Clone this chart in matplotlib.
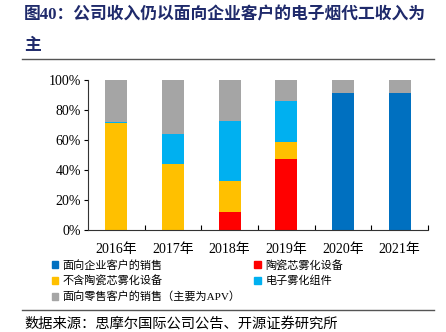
import numpy as np
import matplotlib
matplotlib.use('Agg')
from matplotlib import pyplot as plt
from matplotlib.patches import Patch

plt.rcParams['font.family'] = ['Liberation Serif', 'Noto Sans CJK SC']

# data (share of revenue, %)
years = ['2016年', '2017年', '2018年', '2019年', '2020年', '2021年']
enterprise = [0, 0, 0, 0, 91.6, 91.6]
ceramic = [0, 0, 11.8, 47.1, 0, 0]
non_ceramic = [71.3, 44.0, 20.9, 11.8, 0, 0]
component = [0.9, 19.8, 39.7, 27.3, 0, 0]
retail = [27.8, 36.2, 27.6, 13.8, 8.4, 8.4]

names = ['面向企业客户的销售', '陶瓷芯雾化设备', '不含陶瓷芯雾化设备',
         '电子雾化组件', '面向零售客户的销售（主要为APV）']
colors = ['#0070C0', '#FF0000', '#FFC000', '#00B0F0', '#A5A5A5']

fig = plt.figure(figsize=(4.46, 3.32), dpi=100)
W, H = 446, 332
ax = fig.add_axes([88/W, 1-230/H, 340/W, 150/H])

x = np.arange(len(years))
bottom = np.zeros(len(years))
series = [enterprise, ceramic, non_ceramic, component, retail]
for vals, c in zip(series, colors):
    ax.bar(x, vals, width=0.39, bottom=bottom, color=c)
    bottom += np.array(vals)

ax.set_xlim(-0.5, 5.5)
ax.set_ylim(0, 100)
ax.set_yticks(np.arange(0, 101, 20))
ax.set_yticklabels([f'{v}%' for v in range(0, 101, 20)], fontsize=10)
ax.set_xticks(x)
ax.set_xticklabels(years, fontsize=10)
ax.set_xticks(np.arange(0.5, 6, 1), minor=True)
ax.tick_params(axis='x', which='major', length=0, pad=9)
ax.tick_params(axis='x', which='minor', direction='in', length=3.5, width=0.8)
ax.tick_params(axis='y', direction='out', length=3, width=0.8, pad=2)
for s in ['top', 'right']:
    ax.spines[s].set_visible(False)
for s in ['left', 'bottom']:
    ax.spines[s].set_linewidth(0.8)
    ax.spines[s].set_color('#333333')

# legend
order = [0, 2, 4, 1, 3]
handles = [Patch(color=colors[i], label=names[i]) for i in order]
fig.legend(handles=handles, ncol=2, loc='upper left', bbox_to_anchor=(46/W, 1-254/H),
           frameon=False, fontsize=8, handlelength=0.6, handleheight=0.6,
           handletextpad=0.4, columnspacing=1.2, labelspacing=0.45, borderpad=0)

# title
fig.text(24/W, 1-15/H, '图40：公司收入仍以面向企业客户的电子烟代工收入为', fontsize=12.1,
         fontweight='bold', color='#1F2A6B', va='center', ha='left')
fig.text(24/W, 1-46/H, '主', fontsize=12.1, fontweight='bold', color='#1F2A6B',
         va='center', ha='left')
fig.add_artist(plt.Line2D([22/W, 434/W], [1-59/H, 1-59/H], color='#555555', lw=1))
fig.add_artist(plt.Line2D([22/W, 434/W], [1-310/H, 1-310/H], color='#555555', lw=1))
fig.text(24/W, 1-324/H, '数据来源：思摩尔国际公司公告、开源证券研究所', fontsize=10.3,
         va='center', ha='left')

fig.savefig('out.png', dpi=100)
